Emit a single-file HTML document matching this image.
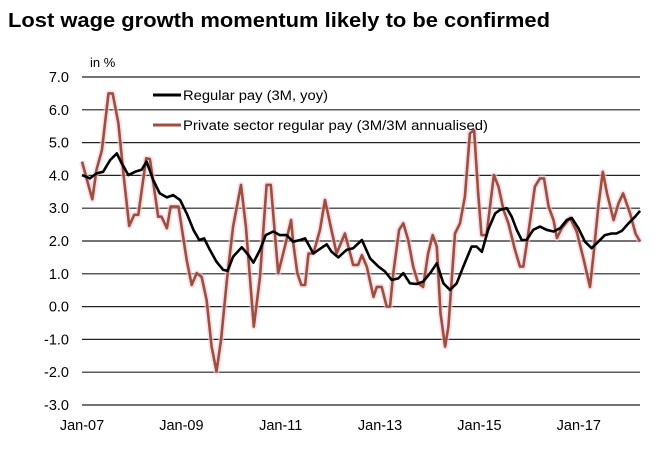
<!DOCTYPE html>
<html><head><meta charset="utf-8"><style>
body{margin:0;background:#fff;}
svg{display:block;font-family:"Liberation Sans",Arial,sans-serif;}
</style></head><body>
<svg id="chart" width="670" height="454">
<text x="8" y="27" font-size="20" font-weight="bold" fill="#000" textLength="542" lengthAdjust="spacingAndGlyphs">Lost wage growth momentum likely to be confirmed</text>
<text x="90" y="67" font-size="13" fill="#000">in %</text>
<g id="grid"></g><g id="ylabels"></g><g id="xlabels"></g><g id="lines"></g>
<g>
<line x1="153" y1="95" x2="181" y2="95" stroke="#000" stroke-width="3"/>
<text x="183" y="100" font-size="13.5" textLength="145" lengthAdjust="spacingAndGlyphs">Regular pay (3M, yoy)</text>
<line x1="153" y1="125" x2="181" y2="125" stroke="#9c4f3c" stroke-width="3"/>
<text x="183" y="130" font-size="13.5" textLength="305" lengthAdjust="spacingAndGlyphs">Private sector regular pay (3M/3M annualised)</text>
</g>
</svg>
<script>
const yTicks=[7,6,5,4,3,2,1,0,-1,-2,-3];
const xTickMonths=[0,24,48,72,96,120];
const xTickLabels=["Jan-07","Jan-09","Jan-11","Jan-13","Jan-15","Jan-17"];
const regMonths=[0,1.9,3.5,5.1,6.8,8.4,9.6,11.2,12.8,14.4,15.6,17.2,18.8,20.5,22,23.7,25.3,26.9,28.3,29.5,30.9,32.5,34.1,35.2,36.5,38.6,40.2,41.4,43,44.4,46.2,47.8,49.4,51,52.7,53.9,55.9,57.1,59.1,60.3,61.9,63.9,65.5,67.6,69.6,71.6,73.2,74.8,76.4,77.6,79.2,80.8,82.4,84.1,85.7,87.3,88.9,90.5,92.1,94.1,95.3,96.6,98.1,99.8,101,102.6,103.8,105,106.2,107.4,109,110.6,112.2,113.9,115.5,117.1,118.3,119.9,121.5,123.1,124.7,126.3,127.9,129.1,130.4,132,133.6,134.8];
const regValues=[4.01,3.91,4.06,4.11,4.47,4.67,4.37,4.01,4.11,4.17,4.42,3.86,3.45,3.33,3.4,3.25,2.84,2.34,2.03,2.08,1.73,1.37,1.12,1.09,1.52,1.81,1.57,1.34,1.73,2.18,2.29,2.18,2.18,1.98,2.03,2.08,1.62,1.73,1.9,1.67,1.5,1.73,1.78,2.03,1.47,1.22,1.07,0.81,0.86,1.02,0.71,0.69,0.76,1.02,1.32,0.71,0.51,0.71,1.22,1.83,1.83,1.67,2.34,2.84,2.95,3.0,2.74,2.34,2.03,2.03,2.34,2.44,2.34,2.29,2.39,2.64,2.7,2.39,1.98,1.78,1.98,2.18,2.23,2.23,2.31,2.54,2.74,2.92];
const privMonths=[0,2.5,3.5,4.8,6.4,7.4,8.8,10,11.4,12.6,13.6,15.5,16.4,18.4,19.2,20.5,21.4,23.3,25.3,26.5,27.7,28.9,30.1,31.3,32.5,33.6,35,36.5,38.4,39.6,41.5,43,44.6,45.6,47.4,49,50.5,51,52,53,53.9,54.7,55.9,57.5,58.7,59.9,61.5,63.5,65.5,66.7,67.6,68.8,70.4,71.2,72.4,73.6,74.4,75.2,76.6,77.6,78.8,80,81.2,82.4,83.6,84.7,85.7,86.6,87.7,88.5,90.1,91.3,92.5,93.7,94.7,95.7,96.5,97.7,99.5,100.6,101.8,103,104.6,105.8,106.6,107.8,109.4,110.6,111.6,112.7,113.9,114.7,115.9,117.9,119.5,121.2,122.7,123.5,124.7,125.8,126.8,128.4,129.6,130.7,132.4,133.7,134.8];
const privValues=[4.42,3.27,4.17,4.77,6.5,6.5,5.59,4.06,2.46,2.8,2.8,4.52,4.5,2.74,2.74,2.39,3.05,3.05,1.42,0.66,1.02,0.91,0.2,-1.22,-1.98,-1.0,0.81,2.44,3.71,2.44,-0.61,0.91,3.71,3.71,1.02,1.83,2.64,1.98,1.02,0.66,0.66,1.62,1.62,2.34,3.25,2.54,1.62,2.23,1.27,1.27,1.57,1.22,0.3,0.6,0.6,0.0,0.0,1.02,2.34,2.54,2.03,1.22,0.71,0.6,1.62,2.18,1.83,-0.2,-1.22,-0.61,2.23,2.54,3.35,5.28,5.38,3.45,2.18,2.18,4.01,3.66,2.95,2.54,1.73,1.22,1.22,2.23,3.66,3.91,3.91,3.05,2.64,2.09,2.39,2.7,2.29,1.42,0.6,1.52,3.05,4.11,3.45,2.64,3.15,3.45,2.84,2.23,1.98];
const NS='http://www.w3.org/2000/svg';
const X0=82,X1=640,PXM=4.14,Y7=77,PXU=32.8;
function xs(m){return X0+m*PXM;}
function ys(v){return Y7+(7-v)*PXU;}
function mk(tag,attrs,parent){const e=document.createElementNS(NS,tag);for(const k in attrs)e.setAttribute(k,attrs[k]);parent.appendChild(e);return e;}
const grid=document.getElementById('grid'),yl=document.getElementById('ylabels'),xl=document.getElementById('xlabels'),lines=document.getElementById('lines');
yTicks.forEach(v=>{
 const l=mk('line',{x1:X0,x2:X1,y1:ys(v),y2:ys(v),stroke:'#222','stroke-width':1.2},grid);
 
 
 const t=mk('text',{x:69,y:ys(v)+5,'font-size':14.5,'text-anchor':'end'},yl);
 t.textContent=v.toFixed(1);
 
 
});
xTickMonths.forEach((m,i)=>{
 const t=mk('text',{x:xs(m),y:430,'font-size':14.5,'text-anchor':'middle'},xl);
 t.textContent=xTickLabels[i];
 
 
});
function pts(ms,vs){return ms.map((m,i)=>xs(m).toFixed(1)+','+ys(vs[i]).toFixed(1)).join(' ');}
const g1=mk('polyline',{points:pts(privMonths,privValues),fill:'none',stroke:'#f6c9d8','stroke-width':6,'stroke-linejoin':'round',opacity:0.6},lines);


const p=mk('polyline',{points:pts(privMonths,privValues),fill:'none',stroke:'#9c4f3c','stroke-width':2.6,'stroke-linejoin':'round'},lines);


const r=mk('polyline',{points:pts(regMonths,regValues),fill:'none',stroke:'#000','stroke-width':2.6,'stroke-linejoin':'round'},lines);


</script>
</body></html>
